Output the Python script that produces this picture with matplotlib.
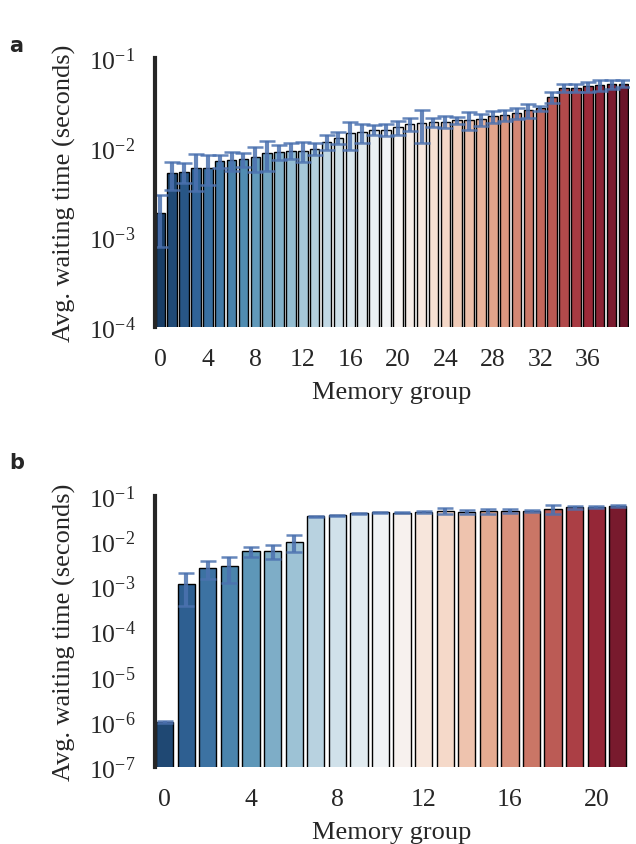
import matplotlib
matplotlib.use("Agg")

import matplotlib.pyplot as plt
import numpy as np
import seaborn as sns

# ------------------ data ------------------ #

# panel a: 40 memory groups
groups_a = list(range(40))
wait_a = [1.87e-3, 5.2e-3, 5.4e-3, 5.9e-3, 6.0e-3, 7.1e-3, 7.3e-3, 7.4e-3, 7.8e-3, 8.65e-3,
          9.0e-3, 9.3e-3, 9.3e-3, 9.8e-3, 1.17e-2, 1.29e-2, 1.45e-2, 1.49e-2, 1.58e-2, 1.59e-2,
          1.69e-2, 1.84e-2, 1.87e-2, 1.92e-2, 1.95e-2, 2.02e-2, 2.05e-2, 2.09e-2, 2.24e-2, 2.31e-2,
          2.44e-2, 2.61e-2, 2.75e-2, 3.65e-2, 4.67e-2, 4.67e-2, 4.83e-2, 5.0e-2, 5.13e-2, 5.2e-2]
err_a = [1.1e-3, 1.8e-3, 1.35e-3, 2.6e-3, 2.2e-3, 1.1e-3, 1.75e-3, 1.35e-3, 2.4e-3, 3.1e-3,
         1.8e-3, 1.85e-3, 2.4e-3, 1.5e-3, 2.3e-3, 2.0e-3, 5.0e-3, 3.5e-3, 2.0e-3, 2.5e-3,
         3.0e-3, 3.2e-3, 7.5e-3, 2.3e-3, 3.0e-3, 1.7e-3, 4.7e-3, 3.2e-3, 3.5e-3, 3.3e-3,
         3.3e-3, 4.4e-3, 1.9e-3, 5.2e-3, 4.3e-3, 5.0e-3, 6.0e-3, 7.0e-3, 6.0e-3, 4.5e-3]

# panel b: 22 memory groups
groups_b = list(range(22))
wait_b = [1.0e-6, 1.15e-3, 2.55e-3, 2.78e-3, 5.97e-3, 6.16e-3, 9.6e-3, 3.55e-2, 3.74e-2, 4.14e-2,
          4.36e-2, 4.28e-2, 4.36e-2, 4.57e-2, 4.4e-2, 4.57e-2, 4.73e-2, 4.65e-2, 5.08e-2, 5.62e-2,
          5.62e-2, 5.9e-2]
err_b = [5e-8, 7.8e-4, 1.1e-3, 1.6e-3, 1.5e-3, 2.1e-3, 4.0e-3, 1.0e-3, 1.0e-3, 1.0e-3,
         1.0e-3, 1.0e-3, 1.5e-3, 7.0e-3, 5.0e-3, 5.0e-3, 5.0e-3, 3.0e-3, 1.1e-2, 4.0e-3,
         3.0e-3, 3.0e-3]

# ------------------ plotting ------------------ #

sns.set_style("white")
plt.rcParams['font.family'] = ['Liberation Serif', 'DejaVu Serif']
plt.rcParams['mathtext.fontset'] = 'stix'

fig = plt.figure(figsize=(6.36, 8.45), dpi=100)
ax_a = fig.add_axes([0.2437, 0.612, 0.745, 0.318])
ax_b = fig.add_axes([0.2437, 0.091, 0.743, 0.321])


def draw_panel(ax, groups, wait, err, ymin, ticks):
    colors = [sns.desaturate(c, 0.75) for c in sns.color_palette("RdBu_r", len(groups))]
    ax.bar(groups, wait, width=0.8, color=colors, edgecolor='black', linewidth=1.0,
           yerr=err, ecolor='#4c72b0', capsize=6,
           error_kw=dict(elinewidth=3, capthick=1.8, alpha=0.85))
    ax.set_yscale('log')
    ax.set_ylim(ymin, 1e-1)
    ax.set_xlim(-0.45, len(groups) - 0.55)
    ax.set_xticks(ticks)
    ax.set_xticklabels([str(t) for t in ticks])
    ax.minorticks_off()
    ax.set_yticks([10.0 ** e for e in range(int(np.log10(ymin)), 0)])
    ax.tick_params(axis='both', labelsize=18.5, length=0)
    ax.tick_params(axis='x', pad=15)
    ax.tick_params(axis='y', pad=14)
    for side in ['top', 'right', 'bottom']:
        ax.spines[side].set_visible(False)
    ax.spines['left'].set_linewidth(3)
    ax.spines['left'].set_color('#262626')
    ax.set_xlabel('Memory group', fontsize=19, labelpad=8)
    ax.set_ylabel('Avg. waiting time (seconds)', fontsize=19, labelpad=9)


draw_panel(ax_a, groups_a, wait_a, err_a, 1e-4, list(range(0, 40, 4)))
draw_panel(ax_b, groups_b, wait_b, err_b, 1e-7, list(range(0, 22, 4)))

fig.text(0.015, 0.938, 'a', fontsize=15, fontweight='bold', family='DejaVu Sans')
fig.text(0.015, 0.445, 'b', fontsize=15, fontweight='bold', family='DejaVu Sans')

plt.savefig('out.png', dpi=100)
